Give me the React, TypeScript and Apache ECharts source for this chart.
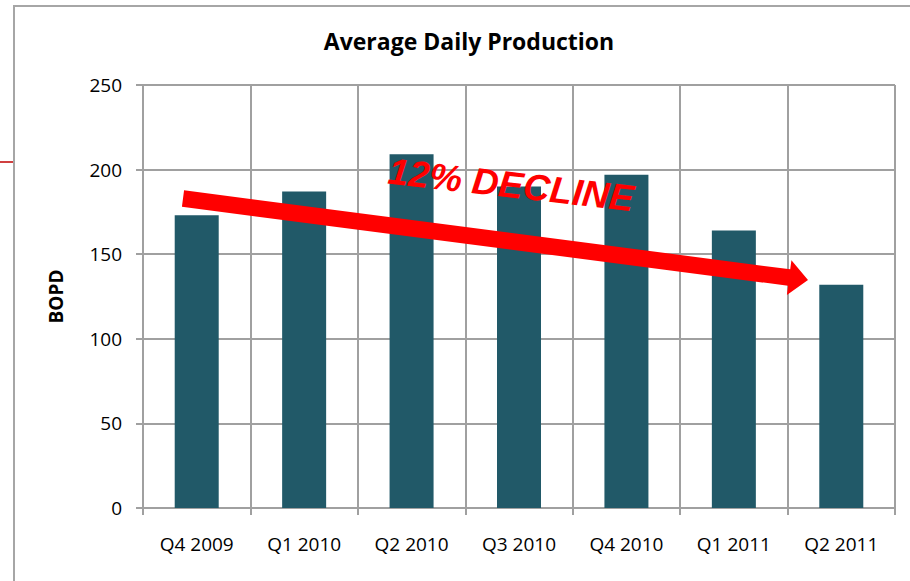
import React, { useEffect, useRef } from "react";
import * as echarts from "echarts";

const categories = ["Q4 2009", "Q1 2010", "Q2 2010", "Q3 2010", "Q4 2010", "Q1 2011", "Q2 2011"];
const bopd = [173, 187, 209, 190, 197, 164, 132];
const yTicks = { min: 0, max: 250, interval: 50 };
const titleText = "Average Daily Production";
const yName = "BOPD";
const annotation = "12% DECLINE";

// arrow annotation (pixel space)
const arrowStart = [183, 198.5];
const arrowTip = [808, 280];

function arrowPoints() {
  const [sx, sy] = arrowStart;
  const [tx, ty] = arrowTip;
  const dx = tx - sx, dy = ty - sy;
  const len = Math.hypot(dx, dy);
  const ux = dx / len, uy = dy / len;
  const nx = -uy, ny = ux;
  const hw = 8.3, headHw = 17.5, headLen = 19;
  const bx = sx + ux * (len - headLen), by = sy + uy * (len - headLen);
  return [
    [sx - nx * hw, sy - ny * hw],
    [bx - nx * hw, by - ny * hw],
    [bx - nx * headHw, by - ny * headHw],
    [tx, ty],
    [bx + nx * headHw, by + ny * headHw],
    [bx + nx * hw, by + ny * hw],
    [sx + nx * hw, sy + ny * hw],
  ];
}

export default function App() {
  const ref = useRef<HTMLDivElement>(null);
  useEffect(() => {
    document.body.style.margin = "0";
    const chart = echarts.init(ref.current!, null, { renderer: "svg" });
    const gridColor = "#a0a0a0";
    const font = "'Open Sans', sans-serif";
    chart.setOption({
      animation: false,
      backgroundColor: "#ffffff",
      title: {
        text: titleText,
        left: 464,
        top: 24,
        textAlign: "center",
        textStyle: { fontFamily: font, fontWeight: "bold", fontSize: 23, color: "#000" },
      },
      grid: { left: 143, right: 15, top: 85, bottom: 73, containLabel: false },
      xAxis: {
        type: "category",
        data: categories,
        boundaryGap: true,
        axisLine: { show: true, lineStyle: { color: gridColor, width: 2 } },
        axisTick: { show: true, length: 7, lineStyle: { color: gridColor, width: 2 } },
        splitLine: { show: true, lineStyle: { color: gridColor, width: 2 } },
        axisLabel: { margin: 26, fontFamily: font, fontSize: 19, color: "#000" },
      },
      yAxis: {
        type: "value",
        min: yTicks.min,
        max: yTicks.max,
        interval: yTicks.interval,
        name: yName,
        nameLocation: "middle",
        nameGap: 78,
        nameRotate: 90,
        nameTextStyle: { fontFamily: font, fontWeight: "bold", fontSize: 19, color: "#000" },
        axisLine: { show: true, lineStyle: { color: gridColor, width: 2 } },
        axisTick: { show: true, length: 7, lineStyle: { color: gridColor, width: 2 } },
        splitLine: { show: true, lineStyle: { color: gridColor, width: 2 } },
        axisLabel: { margin: 21, fontFamily: font, fontSize: 19, color: "#000" },
      },
      series: [
        {
          type: "bar",
          data: bopd,
          barWidth: 44,
          itemStyle: { color: "#215968" },
        },
      ],
      graphic: [
        {
          type: "rect",
          shape: { x: 14, y: 6, width: 1000, height: 1000 },
          style: { fill: "none", stroke: "#a6a6a6", lineWidth: 2 },
          z: 1,
        },
        {
          type: "line",
          shape: { x1: 0, y1: 162, x2: 14, y2: 162 },
          style: { stroke: "#c00000", lineWidth: 1.5 },
        },
        {
          type: "polygon",
          shape: { points: arrowPoints() },
          style: { fill: "#ff0000" },
          z: 100,
        },
        {
          type: "text",
          x: 511,
          y: 185,
          rotation: (-6.5 * Math.PI) / 180,
          style: {
            text: annotation,
            fill: "#ff0000",
            font: "italic bold 37px 'Liberation Sans', Arial, sans-serif",
            textAlign: "center",
            textVerticalAlign: "middle",
          },
          z: 100,
        },
      ],
    });
    return () => chart.dispose();
  }, []);
  return <div ref={ref} style={{ width: 910, height: 581 }} />;
}
